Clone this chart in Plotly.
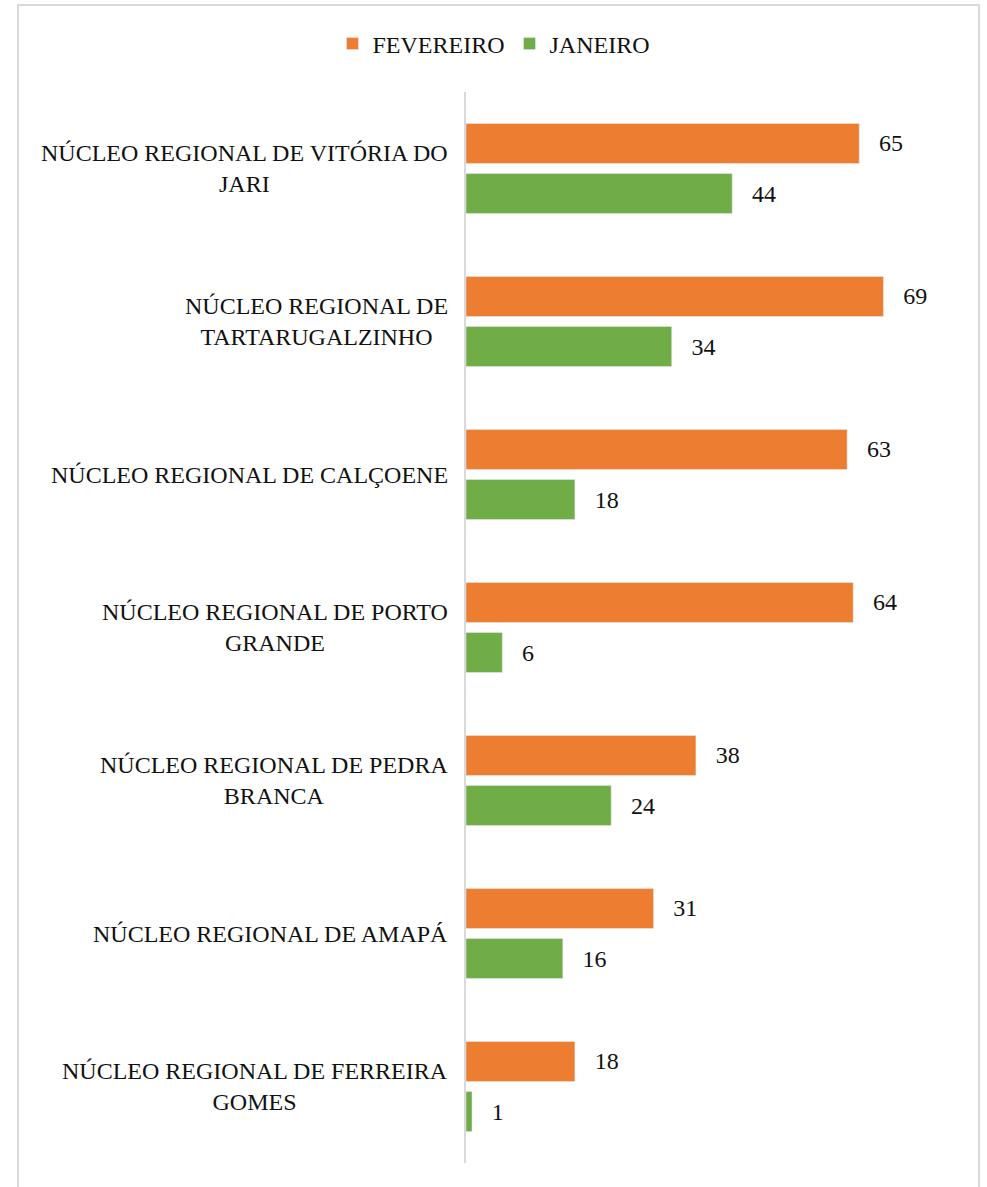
import plotly.graph_objects as go

categories = [
    "NÚCLEO REGIONAL DE VITÓRIA DO<br>JARI",
    "NÚCLEO REGIONAL DE<br>TARTARUGALZINHO",
    "NÚCLEO REGIONAL DE CALÇOENE",
    "NÚCLEO REGIONAL DE PORTO<br>GRANDE",
    "NÚCLEO REGIONAL DE PEDRA<br>BRANCA",
    "NÚCLEO REGIONAL DE AMAPÁ",
    "NÚCLEO REGIONAL DE FERREIRA<br>GOMES",
]
fevereiro = [65, 69, 63, 64, 38, 31, 18]
janeiro = [44, 34, 18, 6, 24, 16, 1]

FONT = "Liberation Serif"
FS = 24
TXT = "#111111"
W, H = 987, 1187
ML, MR, MT, MB = 466, 37, 92, 24

fig = go.Figure()
fig.add_trace(go.Bar(
    y=categories, x=fevereiro, name="FEVEREIRO", orientation="h",
    marker=dict(color="#ED7D31"),
    text=fevereiro, texttemplate="  \u2009%{x}", textposition="outside",
    textfont=dict(family=FONT, size=FS, color=TXT), cliponaxis=False,
))
fig.add_trace(go.Bar(
    y=categories, x=janeiro, name="JANEIRO", orientation="h",
    marker=dict(color="#70AD47"),
    text=janeiro, texttemplate="  \u2009%{x}", textposition="outside",
    textfont=dict(family=FONT, size=FS, color=TXT), cliponaxis=False,
))

for c in categories:
    fig.add_annotation(
        x=0, xref="paper", y=c, yref="y", text=c, showarrow=False,
        xanchor="right", align="center", xshift=-16,
        font=dict(family=FONT, size=FS, color=TXT),
    )

pw = W - ML - MR
ph = H - MT - MB
def px_x(p):
    return (p - ML) / pw
def px_y(p):
    return 1 - (p - MT) / ph

fig.add_shape(type="rect", xref="paper", yref="paper",
              x0=px_x(18), x1=px_x(979), y0=px_y(1200), y1=px_y(5),
              line=dict(color="#D9D9D9", width=2), fillcolor="rgba(0,0,0,0)", layer="below")

fig.update_layout(
    width=W, height=H,
    margin=dict(l=ML, r=MR, t=MT, b=MB),
    paper_bgcolor="white", plot_bgcolor="white",
    barmode="group", bargap=0.346, bargroupgap=0.2,
    font=dict(family=FONT, size=FS, color=TXT),
    showlegend=True,
    legend=dict(orientation="h", x=0.5, xref="container", xanchor="center",
                y=1 - 44 / H, yref="container", yanchor="middle",
                font=dict(family=FONT, size=FS, color=TXT),
                itemwidth=30, traceorder="normal"),
    xaxis=dict(range=[0, 80], visible=False, showgrid=False, zeroline=False),
    yaxis=dict(autorange="reversed", showticklabels=False, ticks="",
               showline=True, linecolor="#D9D9D9", linewidth=2, showgrid=False),
)

fig.write_html("out.html", config={"displayModeBar": False},
               post_script="document.body.style.margin='0';document.body.style.overflow='hidden';")
